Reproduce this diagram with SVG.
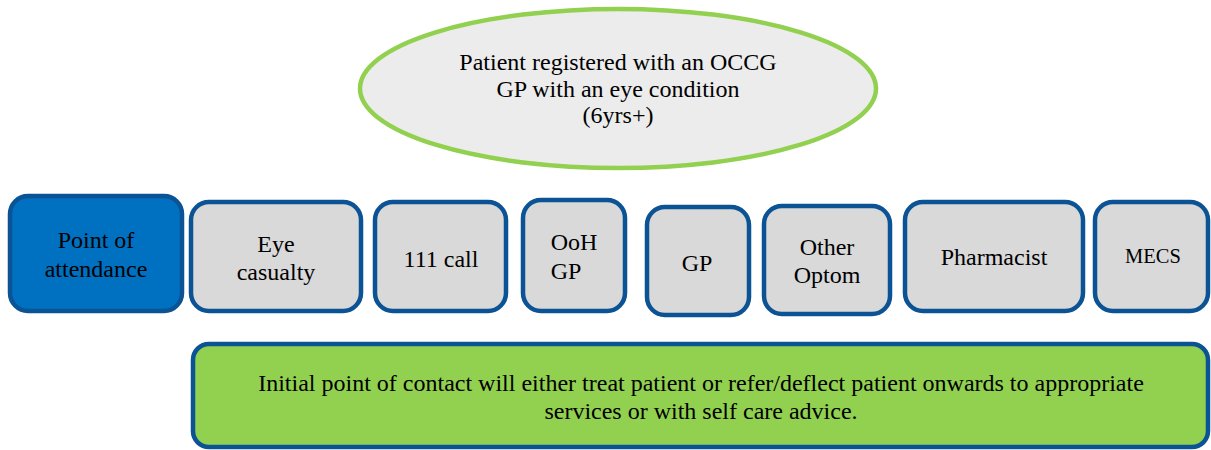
<svg xmlns="http://www.w3.org/2000/svg" width="1211" height="450" viewBox="0 0 1211 450">
  <style>
    text { font-family: 'Liberation Serif', 'Times New Roman', 'DejaVu Serif', serif; fill: #000; text-anchor: middle; }
    .t { font-size: 24px; }
    .box { fill: #d9d9d9; stroke: #0b5394; stroke-width: 4.5; }
    .main { fill: #0070c0; stroke: #0b5394; stroke-width: 4.5; }
    .note { fill: #92d050; stroke: #0b5394; stroke-width: 4.5; }
    .oval { fill: #ececec; stroke: #92d050; stroke-width: 4.5; }
  </style>

  <g id="patient">
    <ellipse class="oval" cx="618" cy="88.5" rx="258" ry="79.5"/>
    <text class="t" x="618" y="70">Patient registered with an OCCG</text>
    <text class="t" x="618" y="97">GP with an eye condition</text>
    <text class="t" x="618" y="123">(6yrs+)</text>
  </g>

  <g id="point-of-attendance">
    <rect class="main" x="10" y="196" width="172" height="115" rx="18"/>
    <text class="t" x="96" y="248">Point of</text>
    <text class="t" x="96" y="277">attendance</text>
  </g>

  <g id="eye-casualty">
    <rect class="box" x="191" y="202" width="170" height="109" rx="18"/>
    <text class="t" x="276" y="252">Eye</text>
    <text class="t" x="276" y="280">casualty</text>
  </g>

  <g id="call-111">
    <rect class="box" x="375" y="202" width="131" height="109" rx="18"/>
    <text class="t" x="441" y="267">111 call</text>
  </g>

  <g id="ooh-gp">
    <rect class="box" x="523" y="200" width="102" height="111" rx="18"/>
    <text class="t" x="574" y="250">OoH</text>
    <text class="t" x="566" y="279">GP</text>
  </g>

  <g id="gp">
    <rect class="box" x="647" y="207" width="102" height="108" rx="18"/>
    <text class="t" x="697" y="271">GP</text>
  </g>

  <g id="other-optom">
    <rect class="box" x="764" y="206" width="126" height="108" rx="18"/>
    <text class="t" x="827" y="255">Other</text>
    <text class="t" x="827" y="283">Optom</text>
  </g>

  <g id="pharmacist">
    <rect class="box" x="905" y="202" width="178" height="109" rx="18"/>
    <text class="t" x="994" y="265">Pharmacist</text>
  </g>

  <g id="mecs">
    <rect class="box" x="1095" y="202" width="113" height="109" rx="18"/>
    <text x="1153" y="263" font-size="20.5">MECS</text>
  </g>

  <g id="outcome">
    <rect class="note" x="193" y="344" width="1015" height="103" rx="16"/>
    <text class="t" x="701" y="391">Initial point of contact will either treat patient or refer/deflect patient onwards to appropriate</text>
    <text class="t" x="701" y="419">services or with self care advice.</text>
  </g>

  <g id="connectors"/>
</svg>
